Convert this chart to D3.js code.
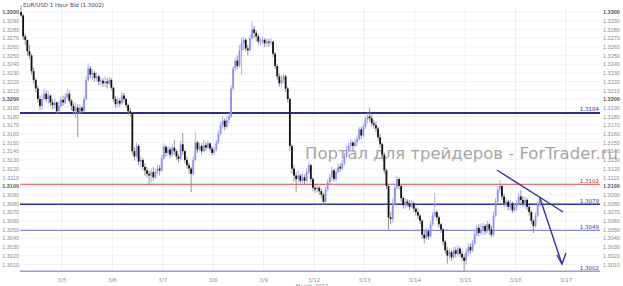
<!DOCTYPE html>
<meta charset="utf-8">
<script src="https://d3js.org/d3.v7.min.js"></script>
<style>
  body { margin: 0; background: #fff; }
  text { font-family: "DejaVu Sans", Arial, sans-serif; }
  .axis text { font-family: "Liberation Sans", Arial, sans-serif; }
</style>
<div id="chart"></div>
<script>

// hourly EUR/USD bid, prices in pips above 1.3000, grouped per day
var firstOpen = 300;
var closes = [
  // 3/4 (evening)
  [296,272,268,255,250,232,222,212,200,192,200,206,200,204,196,193,196,186,192,199],
  // 3/5
  [196,202,206,198,192,186,190,185,190,186,200,222,235,228,230,224,226,220,221,218,220,218,222,213],
  // 3/6
  [200,194,198,195,204,200,193,186,184,140,134,146,128,130,122,118,114,112,116,110,116,120,118,132],
  // 3/7
  [145,138,142,136,144,140,134,131,148,140,130,124,120,114,130,150,142,146,140,147,144,149,143,138],
  // 3/8
  [142,150,160,170,175,168,176,180,212,235,244,238,256,264,268,258,256,270,280,276,272,266,266,268],
  // 3/9
  [264,266,265,266,252,238,226,218,222,226,212,200,146,120,112,108,112,106,110,106,116,124,108,98],
  // 3/12
  [96,98,94,90,82,96,104,110,118,108,116,122,120,126,134,140,146,150,146,150,154,165,158,168],
  // 3/13
  [176,180,178,172,170,166,156,148,136,118,100,64,62,80,98,108,100,86,78,82,80,76,80,74],
  // 3/14
  [70,66,60,44,40,48,42,56,66,70,64,56,50,36,26,20,24,18,26,22,28,22,18,14],
  // 3/15
  [24,30,26,34,44,52,46,50,54,48,56,50,44,66,82,96,100,88,80,82,76,80,72,76],
  // 3/16 (morning)
  [80,88,84,80,84,76,70,60,54,66,78,84]
];
var highs = [
  [308,298,275,268,262,252,236,224,215,204,205,212,210,209,205,200,200,197,198,203],
  [204,207,212,210,200,195,196,194,194,192,204,226,241,238,234,232,230,228,225,224,226,224,226,224],
  [214,203,202,201,208,207,202,195,190,185,144,150,148,134,132,126,122,118,120,122,120,124,124,136],
  [149,147,146,145,148,153,142,137,152,161,142,134,127,122,134,162,152,150,149,153,150,153,150,146],
  [145,153,164,174,180,178,181,184,216,238,248,250,262,271,271,270,262,274,289,284,279,275,270,272],
  [270,270,269,270,267,254,240,230,228,229,228,214,202,148,124,116,118,114,115,113,120,128,126,110],
  [102,101,100,97,92,99,108,114,122,120,120,126,126,130,138,146,150,154,152,155,158,168,168,172],
  [180,184,190,182,176,174,168,160,150,138,120,102,70,86,102,112,110,102,88,86,85,84,84,82],
  [76,74,68,62,50,52,50,60,70,92,72,66,58,52,38,30,28,26,30,30,32,30,26,22],
  [28,34,34,38,48,55,56,57,58,56,60,58,54,70,86,100,107,102,92,86,84,84,82,80],
  [84,92,95,88,88,86,78,72,62,70,82,87]
];
var lows = [
  [294,268,262,250,246,228,218,208,196,187,188,198,196,194,192,188,189,183,184,190],
  [192,194,200,195,187,182,178,156,183,183,185,198,220,224,222,220,220,216,215,214,214,212,216,210],
  [197,190,190,191,193,196,190,182,180,136,129,132,124,122,118,112,110,101,104,106,108,113,112,116],
  [130,134,135,132,134,136,130,127,129,136,126,120,114,93,112,128,138,140,136,139,140,142,140,135],
  [136,140,148,158,166,164,166,172,178,210,232,234,236,228,256,255,250,254,268,270,266,262,261,263],
  [260,261,260,262,248,234,222,214,214,218,208,196,140,114,105,93,104,103,103,102,104,114,104,94],
  [92,93,90,86,79,80,94,102,106,105,106,114,116,118,124,132,138,142,140,144,146,152,154,156],
  [166,172,174,168,166,162,152,144,132,114,96,49,56,58,78,96,96,82,74,74,76,72,74,70],
  [66,62,56,40,34,38,38,40,54,64,60,52,46,32,22,11,16,14,16,18,20,18,14,2],
  [10,20,22,24,32,42,42,44,44,44,46,44,41,42,64,80,92,84,76,76,72,72,69,70],
  [72,78,80,76,74,72,66,56,46,52,64,76]
];
var dayLabels = ["3/5","3/6","3/7","3/8","3/9","3/12","3/13","3/14","3/15","3/16","3/17"];

// support / resistance levels
var levels = [1.3184, 1.3102, 1.3079, 1.3049, 1.3002];
var levelColors = ["#2e2e96", "#d24a4a", "#3434a8", "#7474dc", "#9c9cd4"];
var levelWidths = [2, 1, 1.5, 1, 1.5];

// hand drawn trend line and arrow: [bar index, price]
var trendLine = [[226.6, 1.31184], [258.1, 1.30701]];
var arrowLine = [[247.1, 1.30862], [257.6, 1.30103]];
var arrowHead = [[255.2, 1.30207], [257.6, 1.30103], [259.5, 1.30230]];

var width = 623, height = 286;

var svg = d3.select("#chart").append("svg")
    .attr("width", width)
    .attr("height", height);

// flatten days into hourly bars
var bars = [];
var dayStarts = [];
var prev = firstOpen;
closes.forEach(function(day, d) {
  if (d > 0) dayStarts.push(bars.length);
  day.forEach(function(c, k) {
    bars.push({o: prev, c: c, h: highs[d][k], l: lows[d][k]});
    prev = c;
  });
});
dayStarts.push(dayStarts[dayStarts.length - 1] + 24);

var x = d3.scaleLinear().domain([-0.5, 275.7]).range([20, 600]);
var y = d3.scaleLinear().domain([1.3000, 1.3300]).range([273, 12]);
function py(p) { return y(1.3 + p / 10000); }

// grid
var yTicks = d3.range(1.3010, 1.33001, 0.001).map(function(v) { return +v.toFixed(4); });
svg.append("g").selectAll("line")
  .data(yTicks).enter().append("line")
    .attr("x1", 20).attr("x2", 600)
    .attr("y1", function(d) { return y(d); })
    .attr("y2", function(d) { return y(d); })
    .attr("stroke", "#f3f3f7");
svg.append("g").selectAll("line")
  .data(dayStarts).enter().append("line")
    .attr("x1", function(d) { return x(d - 0.5); })
    .attr("x2", function(d) { return x(d - 0.5); })
    .attr("y1", 8).attr("y2", 272)
    .attr("stroke", "#eeeef5");

// y axes, both sides
function fmt(d) { return d.toFixed(4); }
function isMajor(d) { return Math.round(d * 10000) % 100 === 0; }
function styleAxis(g) {
  g.select(".domain").remove();
  g.selectAll("text")
    .style("font-size", "5.5px")
    .style("font-weight", function(d) { return isMajor(d) ? "bold" : null; })
    .attr("fill", function(d) { return isMajor(d) ? "#555" : "#8a8a8a"; });
}
svg.append("g")
    .attr("class", "axis")
    .attr("transform", "translate(19,0)")
    .call(d3.axisLeft(y).tickValues(yTicks).tickFormat(fmt).tickSize(0).tickPadding(0))
    .call(styleAxis);
svg.append("g")
    .attr("class", "axis")
    .attr("transform", "translate(603,0)")
    .call(d3.axisRight(y).tickValues(yTicks).tickFormat(fmt).tickSize(0).tickPadding(0))
    .call(styleAxis);

// day labels
svg.append("g").selectAll("text")
  .data(dayLabels).enter().append("text")
    .attr("x", function(d, i) { return x(dayStarts[i] - 0.5); })
    .attr("y", 282)
    .attr("text-anchor", "middle")
    .attr("fill", "#8a8a8a")
    .style("font-size", "5.5px")
    .text(function(d) { return d; });
svg.append("text")
    .attr("x", 312).attr("y", 288)
    .attr("text-anchor", "middle")
    .attr("fill", "#8a8a8a")
    .style("font-size", "5.5px")
    .text("March 2012");

// watermark
svg.append("text")
    .attr("x", 305).attr("y", 159)
    .attr("fill", "#a6a6a6")
    .attr("textLength", 313)
    .attr("lengthAdjust", "spacingAndGlyphs")
    .style("font-size", "16.5px")
    .text("Портал для трейдеров - ForTrader.ru");

// level lines
svg.append("g").selectAll("line")
  .data(levels).enter().append("line")
    .attr("x1", 20).attr("x2", 600)
    .attr("y1", function(d) { return y(d); })
    .attr("y2", function(d) { return y(d); })
    .attr("stroke", function(d, i) { return levelColors[i]; })
    .attr("stroke-width", function(d, i) { return levelWidths[i]; });
svg.append("g").selectAll("text")
  .data(levels).enter().append("text")
    .attr("x", 599)
    .attr("y", function(d) { return y(d) - 1.5; })
    .attr("text-anchor", "end")
    .attr("fill", function(d, i) { return i === 1 ? "#a03030" : "#3434a0"; })
    .style("font-size", "5.5px")
    .text(function(d) { return d.toFixed(4); });

// candles
var candle = svg.append("g").selectAll("g")
  .data(bars).enter().append("g");
candle.append("line")
    .attr("x1", function(d, i) { return x(i); })
    .attr("x2", function(d, i) { return x(i); })
    .attr("y1", function(d) { return py(d.h); })
    .attr("y2", function(d) { return py(d.l); })
    .attr("stroke", function(d) { return d.c >= d.o ? "#a6a6ee" : "#8a8a8a"; })
    .attr("stroke-width", 0.9);
candle.append("rect")
    .attr("x", function(d, i) { return x(i) - 0.9; })
    .attr("width", 1.8)
    .attr("y", function(d) { return py(Math.max(d.o, d.c)); })
    .attr("height", function(d) { return Math.max(1, Math.abs(py(d.o) - py(d.c))); })
    .attr("fill", function(d) { return d.c >= d.o ? "#8e8ef0" : "#111"; });

// title
svg.append("text")
    .attr("x", 23).attr("y", 7)
    .attr("fill", "#3a3a60")
    .style("font-size", "5.5px")
    .text("EUR/USD 1 Hour Bid (1.3002)");

// drawn annotations
var line = d3.line()
    .x(function(d) { return x(d[0]); })
    .y(function(d) { return y(d[1]); });
[trendLine, arrowLine, arrowHead].forEach(function(pts) {
  svg.append("path")
      .attr("d", line(pts))
      .attr("fill", "none")
      .attr("stroke", "#34349c")
      .attr("stroke-width", 1.4);
});

</script>
